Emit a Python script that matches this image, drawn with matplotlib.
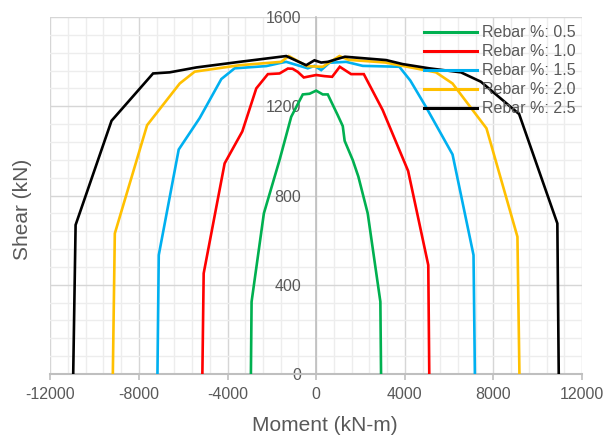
import matplotlib
matplotlib.use("Agg")
import matplotlib.pyplot as plt
from matplotlib.ticker import MultipleLocator

plt.rcParams['font.family'] = ['Liberation Sans', 'DejaVu Sans']

labels = ["Rebar %: 0.5", "Rebar %: 1.0", "Rebar %: 1.5", "Rebar %: 2.0", "Rebar %: 2.5"]
colors = ["#00B050", "#FF0000", "#00B0F0", "#FFC000", "#000000"]

m_05 = [-2946, -2915, -2360, -1653, -1126, -604, -300, 0, 297, 523, 973, 1200, 1285, 1650, 1903, 2326, 2897, 2928]
v_05 = [0, 324, 720, 959, 1153, 1253, 1256, 1270, 1253, 1253, 1160, 1111, 1045, 959, 885, 720, 324, 0]

m_10 = [-5136, -5077, -4131, -3334, -2703, -2180, -1653, -1277, -1065, -829, -559, 0, 374, 721, 1065, 1577, 2150, 3001, 4150, 5059, 5104]
v_10 = [0, 451, 944, 1087, 1280, 1344, 1347, 1369, 1368, 1354, 1329, 1340, 1335, 1332, 1377, 1344, 1344, 1183, 910, 488, 0]

m_15 = [-7163, -7104, -6204, -5258, -4280, -3681, -2253, -1577, -1352, -378, -77, 225, 599, 1352, 2100, 3753, 4250, 4955, 6154, 7101, 7163]
v_15 = [0, 533, 1006, 1147, 1322, 1370, 1380, 1395, 1399, 1370, 1381, 1362, 1395, 1399, 1381, 1377, 1315, 1197, 984, 533, 0]

m_20 = [-9177, -9087, -7631, -6158, -5483, -3455, -1577, -1234, -423, 0, 297, 1050, 1466, 3124, 5406, 6154, 7686, 9083, 9173]
v_20 = [0, 630, 1115, 1302, 1355, 1384, 1399, 1425, 1380, 1378, 1377, 1425, 1408, 1396, 1352, 1302, 1101, 615, 0]

m_25 = [-10965, -10857, -9235, -7361, -6609, -5406, -3455, -1352, -451, -77, 225, 523, 1300, 3154, 3901, 5104, 6532, 7433, 9159, 10884, 10947]
v_25 = [0, 668, 1135, 1347, 1352, 1374, 1399, 1425, 1384, 1406, 1396, 1399, 1422, 1407, 1389, 1370, 1352, 1310, 1165, 675, 0]

moments = [m_05, m_10, m_15, m_20, m_25]
shears = [v_05, v_10, v_15, v_20, v_25]

txt = "#595959"
fig = plt.figure(figsize=(6.05, 4.36), dpi=100)
ax = fig.add_axes([0.0831, 0.1422, 0.8790, 0.8188])

for mx, vy, c, lab in zip(moments, shears, colors, labels):
    ax.plot(mx, vy, color=c, lw=1.9, label=lab, solid_joinstyle='miter', zorder=3)

ax.set_xlim(-12000, 12000)
ax.set_ylim(0, 1600)
ax.xaxis.set_major_locator(MultipleLocator(4000))
ax.xaxis.set_minor_locator(MultipleLocator(800))
ax.yaxis.set_major_locator(MultipleLocator(400))
ax.yaxis.set_minor_locator(MultipleLocator(80))
ax.grid(which='minor', color='#EDEDED', lw=1.0, zorder=0)
ax.grid(which='major', color='#D6D6D6', lw=1.0, zorder=0)
ax.set_axisbelow(True)

for s in ['top', 'right']:
    ax.spines[s].set_visible(False)
ax.spines['left'].set_position(('data', 0))
ax.spines['left'].set_color('#BFBFBF')
ax.spines['left'].set_linewidth(1.2)
ax.spines['bottom'].set_color('#BFBFBF')
ax.spines['bottom'].set_linewidth(1.5)

ax.tick_params(axis='x', which='major', direction='out', length=4, width=1.2, color='#BFBFBF',
               labelsize=11.5, labelcolor=txt, pad=5)
ax.tick_params(axis='y', which='major', length=0, labelsize=11.5, labelcolor=txt, pad=11)
ax.tick_params(which='minor', length=0)
ax.set_xticks(range(-12000, 12001, 4000))
ax.set_xticklabels([str(v) for v in range(-12000, 12001, 4000)])

ax.set_xlabel("Moment (kN-m)", fontsize=15, color=txt)
ax.xaxis.set_label_coords(0.517, -0.143)
ax.xaxis.label.set_va('center')
ax.set_ylabel("Shear (kN)", fontsize=15, color=txt)
ax.yaxis.set_label_coords(-0.053, 0.46)
ax.yaxis.label.set_va('center')

leg = ax.legend(loc='upper left', bbox_to_anchor=(0.703, 0.977), frameon=False, fontsize=11.5,
                handlelength=3.3, handletextpad=0.35, labelspacing=0.25, borderpad=0,
                borderaxespad=0)
for t in leg.get_texts():
    t.set_color(txt)
for h in leg.get_lines():
    h.set_linewidth(2.2)

fig.savefig("out.png", dpi=100)
